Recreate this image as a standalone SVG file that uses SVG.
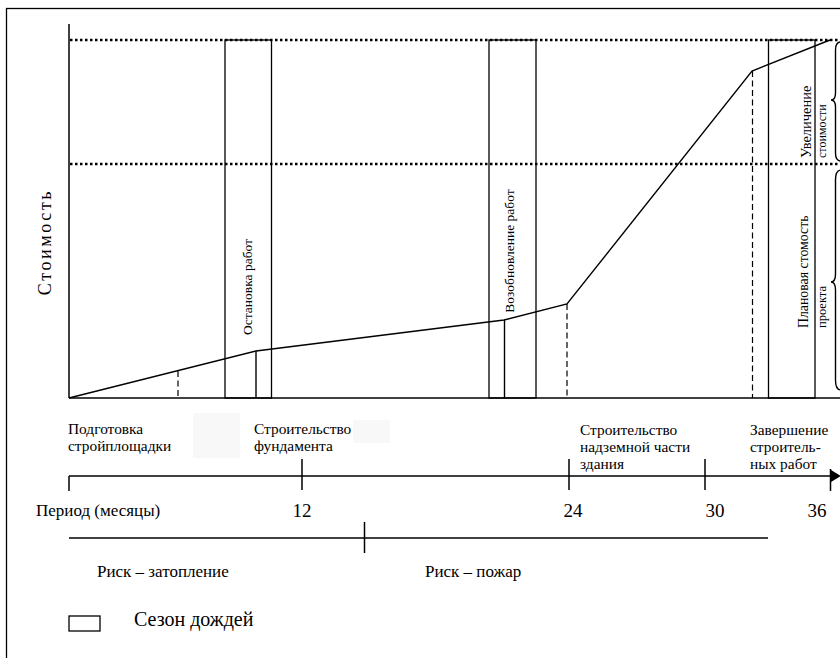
<svg xmlns="http://www.w3.org/2000/svg" width="840" height="658" viewBox="0 0 840 658">
<style>
.ln{stroke:#000;stroke-width:1.4;fill:none}
.ax{stroke:#000;stroke-width:1.5;fill:none}
.dot{stroke:#000;stroke-width:2.6;stroke-dasharray:2.5 2.5;fill:none}
.dash{stroke:#000;stroke-width:1.2;stroke-dasharray:6 3.5;fill:none}
.rain{stroke:#000;stroke-width:1.3;fill:none}
text{font-family:"Liberation Serif","Times New Roman",serif;fill:#000}
.ph{font-size:15.4px}
.rt{font-size:13.5px}
.num{font-size:19px}
.lb{font-size:17px}
</style>
<defs>
<marker id="arr" markerWidth="10" markerHeight="12" refX="1" refY="6" orient="auto" markerUnits="userSpaceOnUse">
<path d="M0,0 L10,6 L0,12 Z" fill="#000"/>
</marker>
</defs>
<rect width="840" height="658" fill="#fff"/>
<rect x="6.5" y="8.5" width="850" height="660" fill="none" stroke="#000" stroke-width="1.3"/>
<rect x="193" y="413" width="47" height="45" fill="#f8f8f8"/>
<rect x="353" y="420" width="37" height="23" fill="#f8f8f8"/>

<g id="axes">
<line class="ax" x1="69" y1="24" x2="69" y2="398"/>
<line class="ax" x1="69" y1="398" x2="840" y2="398"/>
<line class="dot" x1="70" y1="40" x2="840" y2="40"/>
<line class="dot" x1="70" y1="164" x2="840" y2="164"/>
<text x="51" y="242" font-size="18" letter-spacing="2.6" text-anchor="middle" transform="rotate(-90 51 242)">Стоимость</text>
</g>

<g id="rain-season-1">
<rect class="rain" x="225" y="40" width="46.5" height="358"/>
<text class="rt" x="252" y="287" text-anchor="middle" transform="rotate(-90 252 287)">Остановка работ</text>
</g>
<g id="rain-season-2">
<rect class="rain" x="489" y="40" width="47" height="358"/>
<text class="rt" x="514" y="251" text-anchor="middle" transform="rotate(-90 514 251)">Возобновление работ</text>
</g>
<g id="rain-season-3">
<rect class="rain" x="768.5" y="40" width="46.5" height="358"/>
<text x="811" y="158" font-size="14.5" transform="rotate(-90 811 158)">Увеличение</text>
<text x="826" y="158" font-size="12" transform="rotate(-90 826 158)">стоимости</text>
<text x="808" y="328" font-size="13.8" transform="rotate(-90 808 328)">Плановая стомость</text>
<text x="826" y="328" font-size="12.5" transform="rotate(-90 826 328)">проекта</text>
</g>

<g id="braces">
<path class="ln" d="M841,42 Q835.5,42 835.5,50 L835.5,93 Q835.5,100 831,100 Q835.5,100 835.5,107 L835.5,153 Q835.5,161 841,161"/>
<path class="ln" d="M841,170 Q835.5,170 835.5,180 L835.5,274 Q835.5,282 831,282 Q835.5,282 835.5,290 L835.5,380 Q835.5,390 841,390"/>
</g>

<g id="connectors">
<polyline class="ln" points="69,398 256,351 504,320 567,304 752,71 830,40"/>
<line class="dash" x1="178" y1="371" x2="178" y2="398"/>
<line class="ln" x1="256" y1="351" x2="256" y2="398"/>
<line class="ln" x1="504.5" y1="320" x2="504.5" y2="398"/>
<line class="dash" x1="567" y1="304" x2="567" y2="398"/>
<line class="dash" x1="752.5" y1="71" x2="752.5" y2="398"/>
</g>

<g id="phases">
<text class="ph" x="68" y="434">Подготовка</text>
<text class="ph" x="68" y="451">стройплощадки</text>
<text class="ph" x="254" y="434">Строительство</text>
<text class="ph" x="254" y="451">фундамента</text>
<text class="ph" x="580" y="435">Строительство</text>
<text class="ph" x="580" y="452">надземной части</text>
<text class="ph" x="580" y="469">здания</text>
<text class="ph" x="750" y="435">Завершение</text>
<text class="ph" x="750" y="452">строитель-</text>
<text class="ph" x="750" y="469">ных работ</text>
</g>

<g id="time-axis">
<line class="ax" x1="69" y1="476" x2="832" y2="476" marker-end="url(#arr)"/>
<line class="ax" x1="69" y1="476" x2="69" y2="491"/>
<line class="ax" x1="302" y1="459" x2="302" y2="490"/>
<line class="ax" x1="569" y1="459" x2="569" y2="490"/>
<line class="ax" x1="705" y1="459" x2="705" y2="490"/>
<line class="ax" x1="830.5" y1="469" x2="830.5" y2="491"/>
<text class="lb" x="36" y="516">Период (месяцы)</text>
<text class="num" x="302" y="517" text-anchor="middle">12</text>
<text class="num" x="573" y="517" text-anchor="middle">24</text>
<text class="num" x="715" y="517" text-anchor="middle">30</text>
<text class="num" x="817" y="517" text-anchor="middle">36</text>
</g>

<g id="risks">
<line class="ax" x1="69" y1="538" x2="768" y2="538"/>
<line class="ax" x1="364.5" y1="522" x2="364.5" y2="553"/>
<text class="lb" x="97" y="577">Риск – затопление</text>
<text class="lb" x="425" y="577">Риск – пожар</text>
</g>

<g id="legend">
<rect x="69" y="616" width="31" height="15" fill="none" stroke="#000" stroke-width="1.3"/>
<text x="134" y="626" font-size="20">Сезон дождей</text>
</g>
</svg>
